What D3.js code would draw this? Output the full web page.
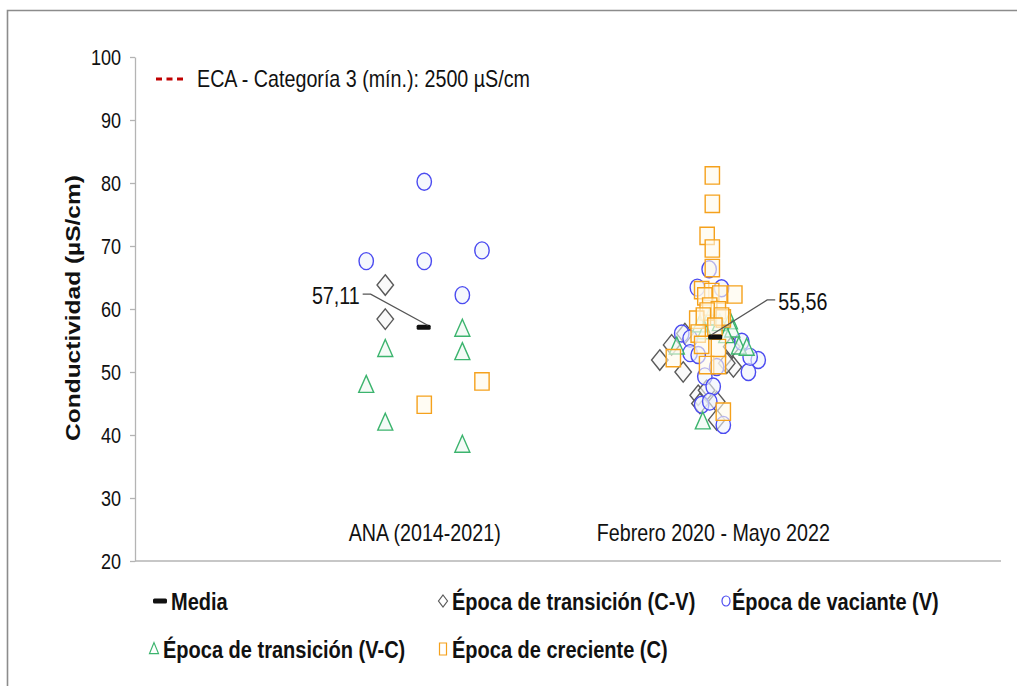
<!DOCTYPE html>
<html>
<head>
<meta charset="utf-8">
<script src="https://cdn.jsdelivr.net/npm/d3@7"></script>
<style>
body{margin:0;background:#fff;}
svg text{font-family:"Liberation Sans",Arial,sans-serif;fill:#111;}
</style>
</head>
<body>
<svg width="1017" height="686"></svg>
<script>
// valores
var yTicks=[20,30,40,50,60,70,80,90,100];
var grupos=["ANA (2014-2021)","Febrero 2020 - Mayo 2022"];
var grupoPos=[1,2];

// [posicion x (categoria + dispersion), conductividad]
var transicionCV=[[0.867,63.8],[0.867,58.4],
  [1.818,51.9],[1.859,54.3],[1.899,50.0],[1.905,56.1],[1.951,46.3],[2.073,50.8],
  [2.050,51.4],[1.980,47.1],[2.015,45.3],[2.015,42.4],[2.067,54.0],[1.957,45.0]];
var vaciante=[[0.801,67.6],[1.002,80.2],[1.002,67.6],[1.202,69.3],[1.134,62.2],
  [1.989,66.3],[1.948,63.4],[2.032,63.3],[1.894,56.1],[1.923,55.3],[2.102,54.8],
  [2.159,51.9],[2.125,50.0],[1.923,53.0],[1.951,52.7],[1.974,49.3],[2.003,47.7],
  [1.963,44.8],[1.991,45.3],[2.038,41.6],[2.015,50.8],[2.131,52.4]];
var transicionVC=[[0.867,53.6],[0.801,47.9],[0.867,41.9],[1.134,56.8],[1.134,53.1],[1.134,38.4],
  [1.957,57.5],[1.991,58.6],[2.061,58.0],[2.026,57.7],[2.069,56.7],[2.092,54.0],
  [1.877,54.0],[2.119,53.8],[1.967,42.1],[1.974,56.4],[2.048,55.8]];
var creciente=[[1.002,44.8],[1.202,48.5],
  [2.000,81.2],[2.000,76.7],[1.982,71.6],[2.000,69.6],[2.000,66.5],[1.963,63.0],
  [2.078,62.3],[1.998,62.7],[2.026,62.3],[1.974,62.0],[1.991,60.4],[2.021,59.8],
  [1.982,59.6],[1.946,58.3],[1.969,58.8],[2.038,58.5],[2.032,58.8],[2.009,57.2],
  [1.951,56.1],[1.963,54.3],[2.021,53.8],[1.865,52.2],[1.980,51.1],[2.021,51.1],[2.038,43.7]];
var medias=[[1.0,57.11],[2.01,55.56]];
var mediaTxt=["57,11","55,56"];

var svg=d3.select("svg");
var K=0.82; // el grafico original esta comprimido en horizontal

function narrow(sel){
  sel.each(function(){
    var L=this.getComputedTextLength();
    d3.select(this).attr("textLength",L*K).attr("lengthAdjust","spacingAndGlyphs");
  });
}

var x=d3.scaleLinear().domain([0,3]).range([135,1001]);
var y=d3.scaleLinear().domain([20,100]).range([561,57]);

// marco
svg.append("path")
  .attr("d","M7.5,686V10.5H1017")
  .attr("fill","none").attr("stroke","#8c8c8c").attr("stroke-width",1.6);

// ejes
var yaxis=d3.axisLeft(y).tickValues(yTicks).tickSize(5).tickSizeOuter(0).tickPadding(9);
var gy=svg.append("g").attr("transform","translate(135,0)").call(yaxis);
gy.select(".domain").attr("stroke","#b4b4b4").attr("stroke-width",1.3);
gy.selectAll(".tick line").attr("stroke","#b4b4b4").attr("stroke-width",1.3);
gy.selectAll(".tick text").attr("font-size",22).attr("fill","#111")
  .attr("font-family","Liberation Sans, Arial, sans-serif").attr("dy","0.36em");
narrow(gy.selectAll(".tick text"));

svg.append("line")
  .attr("x1",x(0)).attr("x2",x(3)).attr("y1",y(20)).attr("y2",y(20))
  .attr("stroke","#b4b4b4").attr("stroke-width",1.6);

svg.selectAll(".cat").data(grupos).enter().append("text")
  .attr("class","cat")
  .attr("x",(d,i)=>x(grupoPos[i])+1)
  .attr("y",541)
  .attr("text-anchor","middle")
  .attr("font-size",24)
  .text(d=>d)
  .call(narrow);

// titulo eje y
svg.append("text")
  .attr("transform","translate(80,308) scale("+K+",1) rotate(-90)")
  .attr("text-anchor","middle")
  .attr("font-size",24.5)
  .attr("font-weight","bold")
  .text("Conductividad (µS/cm)");

// leyenda ECA
svg.append("line")
  .attr("x1",156).attr("x2",186).attr("y1",79).attr("y2",79)
  .attr("stroke","#c00000").attr("stroke-width",3).attr("stroke-dasharray","6,4.5");
svg.append("text")
  .attr("x",197).attr("y",87)
  .attr("font-size",24)
  .text("ECA - Categoría 3 (mín.): 2500 µS/cm")
  .call(narrow);

// simbolos
var estilos={
  cv:{stroke:"#5a5a5a",fill:"#f7f7f7"},
  v:{stroke:"#4b4bf0",fill:"#eef3fc"},
  vc:{stroke:"#3cb46e",fill:"#eff8f2"},
  c:{stroke:"#f5a11c",fill:"#fffaeb"}
};
function diamante(w,h){return "M0,"+(-h/2)+"L"+(w/2)+",0L0,"+(h/2)+"L"+(-w/2)+",0Z";}
function triangulo(w,h){return "M0,"+(-h*0.58)+"L"+(w/2)+","+(h*0.42)+"L"+(-w/2)+","+(h*0.42)+"Z";}
function cuadro(w,h){return "M"+(-w/2)+","+(-h/2)+"h"+w+"v"+h+"h"+(-w)+"Z";}
function elipse(rx,ry){return "M"+(-rx)+",0a"+rx+","+ry+" 0 1,0 "+(2*rx)+",0a"+rx+","+ry+" 0 1,0 "+(-2*rx)+",0Z";}

function serie(datos,forma,est){
  svg.append("g").selectAll("path").data(datos).enter().append("path")
    .attr("transform",d=>"translate("+x(d[0])+","+y(d[1])+")")
    .attr("d",forma)
    .attr("fill",est.fill).attr("fill-opacity",0.6)
    .attr("stroke",est.stroke).attr("stroke-width",1.4);
}
serie(transicionCV,diamante(16.5,20.5),estilos.cv);
serie(vaciante,elipse(7.2,8.5),estilos.v);
serie(transicionVC,triangulo(15,17),estilos.vc);
serie(creciente,cuadro(14.3,17.3),estilos.c);

// medias
svg.append("g").selectAll("rect").data(medias).enter().append("rect")
  .attr("x",d=>x(d[0])-7).attr("y",d=>y(d[1])-2.5)
  .attr("width",14).attr("height",5).attr("rx",1.5)
  .attr("fill","#111");

// etiquetas de la media con linea guia
var guias=[{dx:-53,dy:-33,lado:-1},{dx:52,dy:-37,lado:1}];
medias.forEach(function(m,i){
  var mx=x(m[0]),my=y(m[1]),g=guias[i];
  var ex=mx+g.dx,ey=my+g.dy;
  svg.append("path")
    .attr("d","M"+(mx+g.lado*(-4))+","+(my-2)+"L"+ex+","+ey+"h"+(g.lado*8))
    .attr("fill","none").attr("stroke","#555").attr("stroke-width",1.3);
  svg.append("text")
    .attr("x",ex+g.lado*11).attr("y",ey+10)
    .attr("text-anchor",g.lado<0?"end":"start")
    .attr("font-size",24)
    .text(mediaTxt[i])
    .call(narrow);
});

// leyenda inferior
var leyenda=[
  {t:"Media",sx:160,tx:171,y:601,tipo:"m"},
  {t:"Época de transición (C-V)",sx:443,tx:452,y:601,tipo:"cv"},
  {t:"Época de vaciante (V)",sx:726,tx:732,y:601,tipo:"v"},
  {t:"Época de transición (V-C)",sx:154,tx:163,y:649,tipo:"vc"},
  {t:"Época de creciente (C)",sx:443,tx:452,y:649,tipo:"c"}
];
var formasLey={cv:diamante(9,12),v:elipse(4,5),vc:triangulo(9,11),c:cuadro(7,12)};
leyenda.forEach(function(l){
  if(l.tipo==="m"){
    svg.append("rect").attr("x",l.sx-7).attr("y",l.y-2.5).attr("width",14).attr("height",5)
      .attr("rx",1.5).attr("fill","#111");
  }else{
    svg.append("path").attr("transform","translate("+l.sx+","+l.y+")")
      .attr("d",formasLey[l.tipo]).attr("fill","#fff")
      .attr("stroke",estilos[l.tipo].stroke).attr("stroke-width",1.2);
  }
  svg.append("text").attr("x",l.tx).attr("y",l.y+9)
    .attr("font-size",24.4).attr("font-weight","bold")
    .text(l.t).call(narrow);
});
</script>
</body>
</html>
